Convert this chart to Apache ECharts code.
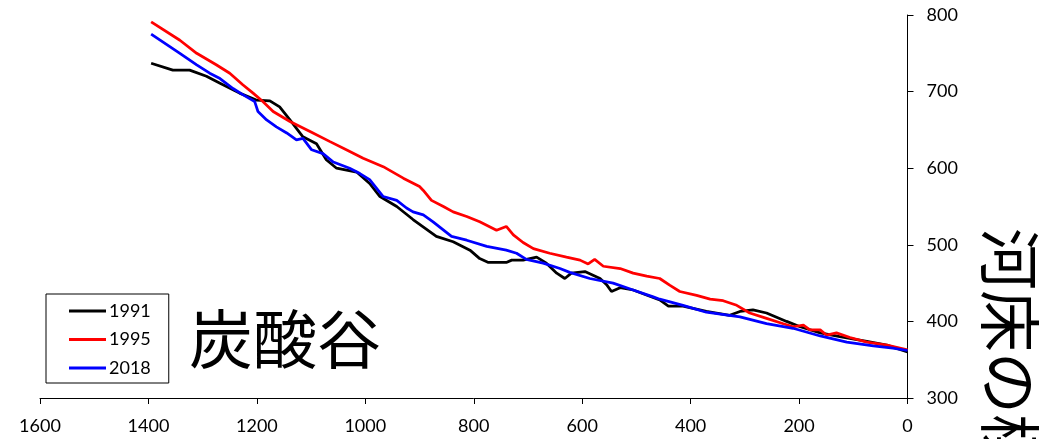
<!DOCTYPE html>
<html>
<head>
<meta charset="utf-8">
<script src="https://cdn.jsdelivr.net/npm/echarts@6/dist/echarts.min.js"></script>
<style>html,body{margin:0;padding:0;background:#fff;}#c{width:1046px;height:439px;}</style>
</head>
<body>
<div id="c"></div>
<script>
const seriesNames = ['1991', '1995', '2018'];
const xTicks = [1600, 1400, 1200, 1000, 800, 600, 400, 200, 0];
const yTicks = [300, 400, 500, 600, 700, 800];
const chartLabel = '炭酸谷';
const yAxisTitle = '河床の標高(m)';

const dist1991 = [1395,1355,1324,1293,1268,1232,1201,1176,1158,1139,1115,1090,1072,1053,1016,992,973,942,912,869,838,807,789,773,740,730,709,684,666,647,632,620,595,567,555,546,530,506,457,441,414,371,328,309,285,260,223,198,161,125,75,38,0];
const elev1991 = [737,728,728,720,711,698,689,688,680,663,641,632,611,600,595,580,563,550,533,511,504,493,482,477,477,480,480,484,476,463,456,463,465,456,448,439,444,441,428,420,420,413,408,413,415,411,400,393,385,380,374,369,360];

const dist1995 = [1395,1342,1311,1275,1250,1226,1207,1189,1170,1139,1102,1066,1035,1004,967,930,900,893,878,856,838,813,789,758,740,727,709,690,660,629,604,589,577,561,530,506,481,457,438,420,389,364,340,315,291,260,229,211,192,180,161,149,131,106,75,38,0];
const elev1995 = [791,767,750,735,724,709,698,687,674,661,648,635,624,613,602,587,576,571,558,550,543,537,530,519,524,513,503,495,489,484,480,475,481,472,469,463,459,456,447,439,434,429,427,421,411,404,397,393,395,389,389,382,385,379,373,369,363];

const dist2018 = [1395,1342,1311,1287,1268,1244,1226,1204,1198,1182,1164,1145,1127,1115,1099,1078,1059,1029,1010,992,967,942,924,912,893,875,841,813,776,740,721,703,672,641,623,586,543,506,469,457,414,371,309,260,211,161,112,63,27,0];
const elev2018 = [775,750,735,724,717,704,696,687,674,663,654,646,637,639,624,619,608,600,593,585,563,558,548,543,539,530,511,506,498,493,489,481,476,469,464,456,450,441,432,429,421,412,406,397,391,381,373,368,365,362];

const colors = ['#000000', '#ff0000', '#0000ff'];
const dists = [dist1991, dist1995, dist2018];
const elevs = [elev1991, elev1995, elev2018];

const chart = echarts.init(document.getElementById('c'), null, {renderer: 'canvas'});
const latin = 'Lato, "Noto Sans", sans-serif';
const cjk = '"Noto Sans CJK JP", sans-serif';

chart.setOption({
  animation: false,
  backgroundColor: '#ffffff',
  grid: {left: 40, right: 138.5, top: 15, bottom: 41, containLabel: false},
  legend: {
    data: seriesNames.map((n) => ({name: n, icon: 'rect'})),
    orient: 'vertical',
    left: 46,
    top: 294,
    padding: [8, 18, 6, 23],
    itemWidth: 37,
    itemHeight: 3,
    itemGap: 10.5,
    borderColor: '#000',
    borderWidth: 1,
    textStyle: {fontFamily: latin, fontSize: 18, lineHeight: 18, color: '#000', padding: [0, 0, 0, -2]}
  },
  xAxis: {
    type: 'value',
    inverse: true,
    position: 'bottom',
    min: xTicks[xTicks.length - 1],
    max: xTicks[0],
    interval: 200,
    splitLine: {show: false},
    axisLine: {show: true, onZero: false, lineStyle: {color: '#000', width: 1}},
    axisTick: {show: true, length: 6, lineStyle: {color: '#000'}},
    axisLabel: {margin: 19, fontFamily: latin, fontSize: 18, color: '#000', formatter: (v) => String(v)}
  },
  yAxis: {
    type: 'value',
    position: 'right',
    min: yTicks[0],
    max: yTicks[yTicks.length - 1],
    interval: 100,
    splitLine: {show: false},
    axisLine: {show: true, onZero: false, lineStyle: {color: '#000', width: 1}},
    axisTick: {show: true, length: 6, lineStyle: {color: '#000'}},
    axisLabel: {margin: 19, fontFamily: latin, fontSize: 18, color: '#000', formatter: (v) => String(v)}
  },
  graphic: [
    {
      type: 'text', x: 189, y: 339,
      style: {text: chartLabel, font: '64px ' + cjk, fill: '#000', textAlign: 'left', textVerticalAlign: 'middle'}
    },
    {
      type: 'text', x: 1010, y: 228, rotation: -Math.PI / 2,
      style: {text: yAxisTitle, font: '62px ' + cjk, fill: '#000', textAlign: 'left', textVerticalAlign: 'middle'}
    }
  ],
  series: seriesNames.map((name, i) => ({
    name: name,
    type: 'line',
    showSymbol: false,
    symbol: 'none',
    color: colors[i],
    itemStyle: {color: colors[i]},
    lineStyle: {color: colors[i], width: 2.75},
    data: dists[i].map((d, j) => [d, elevs[i][j]])
  }))
});
</script>
</body>
</html>
